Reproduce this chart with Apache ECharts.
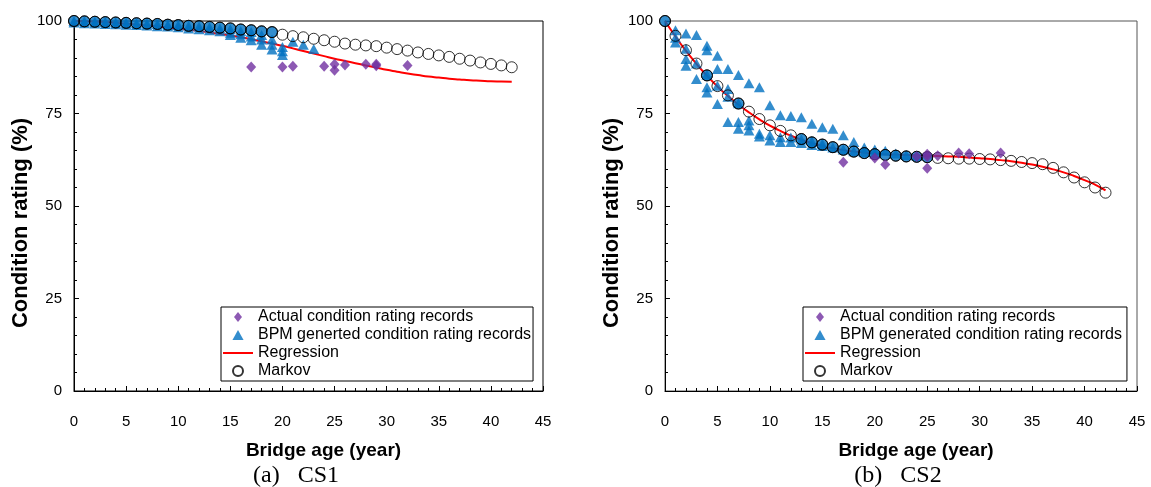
<!DOCTYPE html>
<html>
<head>
<meta charset="utf-8">
<script src="https://cdn.jsdelivr.net/npm/echarts@6/dist/echarts.min.js"></script>
<style>
  html, body { margin: 0; padding: 0; background: #fff; }
  #chart { width: 1151px; height: 487px; }
</style>
</head>
<body>
<div id="chart"></div>
<script>
// bridge age (year)
var years = [0,1,2,3,4,5,6,7,8,9,10,11,12,13,14,15,16,17,18,19,20,21,22,23,24,25,26,27,28,29,30,31,32,33,34,35,36,37,38,39,40,41,42]

// CS1
var cs1Markov = [100,99.9,99.8,99.7,99.6,99.5,99.4,99.3,99.2,99.0,98.9,98.7,98.6,98.4,98.2,98.0,97.7,97.5,97.2,97.0,96.3,95.9,95.6,95.2,94.8,94.4,93.9,93.6,93.4,93.2,92.8,92.4,92.0,91.5,91.1,90.7,90.3,89.8,89.3,88.8,88.4,88.0,87.5]
var cs1Regression = [100,99.95,99.85,99.7,99.5,99.3,99.05,98.8,98.5,98.2,97.9,97.6,97.3,96.9,96.5,96.1,95.6,95.1,94.5,93.9,93.3,92.6,91.9,91.2,90.5,89.8,89.2,88.6,88.0,87.4,86.8,86.3,85.8,85.4,85.0,84.7,84.4,84.2,84.0,83.85,83.7,83.65,83.6]
var cs1BpmMean = [100,99.9,99.8,99.7,99.6,99.5,99.4,99.3,99.2,99.0,98.9,98.7,98.6,98.4,98.2,98.0,97.7,97.5,97.2,97.0]
var cs1Bpm = [
  [0,100],[0,99.6],[1,99.9],[1,99.4],[2,99.8],[2,99.3],[3,99.7],[3,99.2],[4,99.6],[4,99.1],
  [5,99.5],[5,99.0],[6,99.4],[6,98.9],[7,99.3],[7,98.8],[8,99.2],[8,98.6],[9,99.0],[9,98.5],
  [10,98.9],[10,98.3],[11,98.7],[11,98.0],[12,98.5],[12,97.8],[13,98.3],[13,97.5],[14,98.0],[14,97.2],
  [15,97.8],[15,96.8],[15,96.2],[16,97.3],[16,96.4],[16,95.5],[17,97.0],[17,95.8],[17,94.8],
  [18,96.2],[18,95.0],[18,93.6],[19,95.0],[19,93.6],[19,92.3],[20,93.0],[20,91.8],[20,90.8],
  [21,94.4],[22,93.6],[23,92.4]
]
var cs1Actual = [[17,87.6],[20,87.6],[21,87.8],[24,87.8],[25,88.3],[25,86.7],[26,88.1],[28,88.3],[29,88.3],[29,87.9],[32,88.0]]

// CS2
var cs2Markov = [100,96.0,92.1,88.5,85.3,82.4,79.9,77.7,75.5,73.5,71.8,70.3,69.1,68.1,67.2,66.6,65.9,65.2,64.7,64.3,64.0,63.8,63.6,63.4,63.3,63.2,63.0,62.9,62.8,62.8,62.7,62.6,62.4,62.2,61.9,61.6,61.3,60.3,59.1,57.7,56.4,55.0,53.6]
var cs2Regression = [100,95.8,91.9,88.4,85.2,82.3,79.7,77.4,75.3,73.4,71.7,70.3,69.0,67.9,67.0,66.2,65.6,65.1,64.7,64.4,64.2,64.0,63.9,63.8,63.7,63.6,63.5,63.4,63.3,63.1,62.9,62.7,62.4,62.1,61.7,61.2,60.6,59.9,59.1,58.1,57.0,55.8,54.2]
var cs2BpmMeanYears = [0,4,7,13,14,15,16,17,18,19,20,21,22,23,24,25]
var cs2BpmMean = [100,85.3,77.7,68.1,67.2,66.6,65.9,65.2,64.7,64.3,64.0,63.8,63.6,63.4,63.3,63.2]
var cs2Bpm = [
  [1,97.5],[1,94.2],[1,95.5],[2,96.6],[2,89.7],[2,87.9],[2,92.5],[3,96.2],[3,84.3],[3,88.5],
  [4,93.3],[4,92.1],[4,82.1],[4,80.7],[4,85.5],[5,90.6],[5,87.0],[5,77.6],[5,82.5],
  [6,87.0],[6,81.6],[6,72.7],[6,79.5],[7,85.4],[7,72.7],[7,70.9],[7,77.8],
  [8,83.2],[8,73.1],[8,71.8],[8,70.4],[9,82.1],[9,69.5],[9,68.8],[10,77.2],[10,69.1],[10,67.7],
  [11,74.5],[11,68.6],[11,67.3],[12,74.3],[12,67.3],[12,68.5],[13,74.0],[13,67.0],[13,68.0],
  [14,72.2],[14,66.5],[14,67.5],[15,71.3],[15,66.2],[15,66.8],[16,70.9],[16,65.8],
  [17,69.1],[17,65.3],[18,67.3],[18,64.8],[19,65.8],[19,64.5],[20,65.3],[20,64.2],
  [21,64.9],[22,64.2],[23,63.8],[24,63.6]
]
var cs2Actual = [[17,61.8],[20,63.0],[21,61.2],[24,63.4],[25,64.0],[25,63.3],[25,60.2],[26,63.6],[28,64.3],[29,64.1],[32,64.3]]

var xTicks = { min: 0, max: 45, interval: 5 }
var yTicks = { min: 0, max: 100, interval: 25 }

var NAME_ACTUAL = 'Actual condition rating records'
var NAME_BPM1 = 'BPM generted condition rating records'
var NAME_BPM2 = 'BPM generated condition rating records'

function pairs(xs, ys) {
  return ys.map(function (v, i) { return [xs[i], v] })
}

var FONT = '"Liberation Sans", Arial, sans-serif'
var BLUE = '#0070C0'
var PURPLE = '#7030A0'

// legend icons, kept in shape inside the icon box
var ICON_DIAMOND = 'path://M4,0L8,5L4,10L0,5Z'
var ICON_TRIANGLE = 'path://M5,0L10,9L0,9Z'
var ICON_LINE = 'path://M0,4L30,4L30,6L0,6Z'

function mainX(grid) {
  return {
    type: 'value', gridIndex: grid, min: xTicks.min, max: xTicks.max, interval: xTicks.interval,
    name: 'Bridge age (year)', nameLocation: 'middle', nameGap: 50,
    nameTextStyle: { fontFamily: FONT, fontWeight: 'bold', fontSize: 19, color: '#000', padding: [0, 0, 0, 30] },
    axisLine: { show: true, lineStyle: { color: '#000', width: 1 } },
    axisTick: { show: true, inside: true, length: 5, lineStyle: { color: '#000' } },
    minorTick: { show: true, splitNumber: 5, length: 3, lineStyle: { color: '#000' } },
    axisLabel: { margin: 23, fontFamily: FONT, fontSize: 15, color: '#000' },
    splitLine: { show: false }
  }
}
function outerX(grid) {
  return {
    type: 'value', gridIndex: grid, min: xTicks.min, max: xTicks.max, interval: xTicks.interval,
    axisLine: { show: false }, axisLabel: { show: false }, splitLine: { show: false },
    axisTick: { show: true, inside: false, length: 4, lineStyle: { color: '#000' } }
  }
}
function mainY(grid) {
  return {
    type: 'value', gridIndex: grid, min: yTicks.min, max: yTicks.max, interval: yTicks.interval,
    name: 'Condition rating (%)', nameLocation: 'middle', nameGap: 42,
    nameTextStyle: { fontFamily: FONT, fontWeight: 'bold', fontSize: 22, color: '#000', padding: [0, 34, 0, 0] },
    axisLine: { show: true, lineStyle: { color: '#000', width: 1 } },
    axisTick: { show: true, inside: true, length: 5, lineStyle: { color: '#000' } },
    minorTick: { show: true, splitNumber: 5, length: 3, lineStyle: { color: '#000' } },
    axisLabel: { margin: 12, fontFamily: FONT, fontSize: 15, color: '#000' },
    splitLine: { show: false }
  }
}
function outerY(grid) {
  return {
    type: 'value', gridIndex: grid, min: yTicks.min, max: yTicks.max, interval: yTicks.interval,
    axisLine: { show: false }, axisLabel: { show: false }, splitLine: { show: false },
    axisTick: { show: true, inside: false, length: 4, lineStyle: { color: '#000' } }
  }
}

function legendFor(left, bpmName, padRight) {
  return {
    left: left, top: 307, orient: 'vertical',
    data: [
      { name: NAME_ACTUAL, icon: ICON_DIAMOND },
      { name: bpmName, icon: ICON_TRIANGLE },
      { name: 'Regression', icon: ICON_LINE },
      { name: 'Markov', icon: 'circle' }
    ],
    borderColor: '#000', borderWidth: 1, padding: [1, padRight, 1, 2],
    itemGap: 0, itemWidth: 30, itemHeight: 10, symbolKeepAspect: true,
    textStyle: { fontFamily: FONT, fontSize: 16, color: '#000', lineHeight: 18 },
    selectedMode: false
  }
}

function seriesFor(idx, reg, bpm, meanXs, mean, markov, actual, bpmName) {
  return [
    {
      name: 'Regression', type: 'line', xAxisIndex: idx, yAxisIndex: idx,
      data: pairs(years, reg), symbol: 'none', smooth: true,
      lineStyle: { color: '#FF0000', width: 2 }, itemStyle: { color: '#FF0000' }, z: 2
    },
    {
      name: bpmName, type: 'scatter', xAxisIndex: idx, yAxisIndex: idx,
      data: bpm, symbol: 'triangle', symbolSize: [11, 10],
      itemStyle: { color: BLUE }, z: 3
    },
    {
      name: 'BPM mean', type: 'scatter', xAxisIndex: idx, yAxisIndex: idx,
      data: pairs(meanXs, mean), symbol: 'circle', symbolSize: 11,
      itemStyle: { color: BLUE, borderColor: '#000', borderWidth: 1 }, z: 4
    },
    {
      name: 'Markov', type: 'scatter', xAxisIndex: idx, yAxisIndex: idx,
      data: pairs(years, markov), symbol: 'circle', symbolSize: 11,
      itemStyle: { color: 'rgba(255,255,255,0)', borderColor: '#000', borderWidth: 1 }, z: 5
    },
    {
      name: NAME_ACTUAL, type: 'scatter', xAxisIndex: idx, yAxisIndex: idx,
      data: actual, symbol: 'diamond', symbolSize: [10, 11],
      itemStyle: { color: PURPLE }, z: 6
    }
  ]
}

var chart = echarts.init(document.getElementById('chart'))
var option = {
  animation: false,
  backgroundColor: '#fff',
  grid: [
    { left: 74, top: 21, width: 469, height: 370, show: true, borderColor: '#000', borderWidth: 1 },
    { left: 665, top: 21, width: 472, height: 370, show: true, borderColor: '#555', borderWidth: 1 }
  ],
  xAxis: [mainX(0), mainX(1), outerX(0), outerX(1)],
  yAxis: [mainY(0), mainY(1), outerY(0), outerY(1)],
  legend: [legendFor(221, NAME_BPM1, 2), legendFor(803, NAME_BPM2, 5)],
  graphic: [
    { type: 'text', x: 296, y: 476, style: { text: '(a)   CS1', textAlign: 'center', textVerticalAlign: 'middle', font: '24px "Liberation Serif", "Times New Roman", serif', fill: '#000' } },
    { type: 'text', x: 898, y: 476, style: { text: '(b)   CS2', textAlign: 'center', textVerticalAlign: 'middle', font: '24px "Liberation Serif", "Times New Roman", serif', fill: '#000' } }
  ],
  series: []
    .concat(seriesFor(0, cs1Regression, cs1Bpm, years.slice(0, cs1BpmMean.length), cs1BpmMean, cs1Markov, cs1Actual, NAME_BPM1))
    .concat(seriesFor(1, cs2Regression, cs2Bpm, cs2BpmMeanYears, cs2BpmMean, cs2Markov, cs2Actual, NAME_BPM2))
}
chart.setOption(option)
</script>
</body>
</html>
